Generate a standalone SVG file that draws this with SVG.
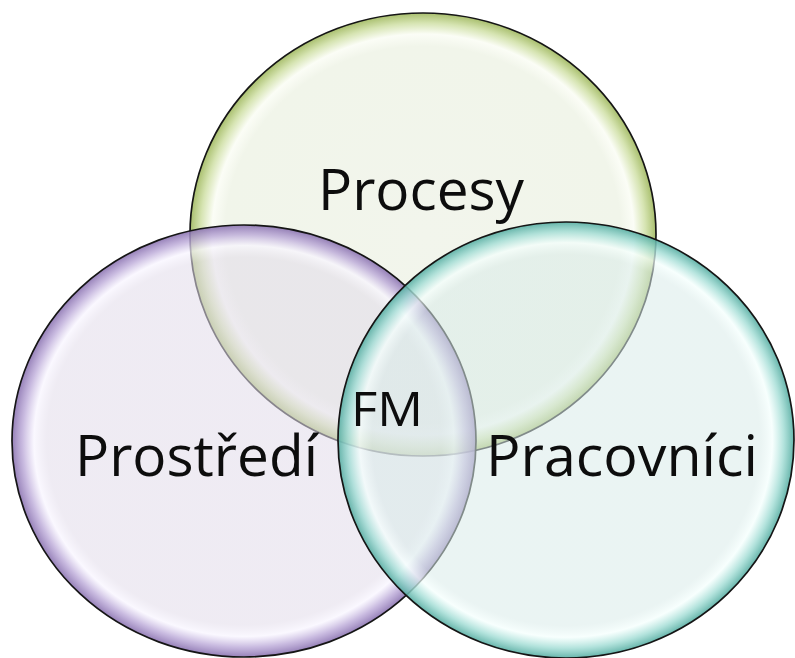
<svg xmlns="http://www.w3.org/2000/svg" width="795" height="658" viewBox="0 0 795 658">
  <style>
    .ring { stroke: #151515; stroke-width: 1.7; }
    .label { font-family: "Open Sans", "Noto Sans", "DejaVu Sans", sans-serif; fill: #0d0d0d; }
    .big { font-size: 57px; }
    .small { font-size: 48px; }
  </style>
  <defs>
    <!-- glassy bevel: flat light interior, white highlight band, tinted rim -->
    <radialGradient id="gGreen" cx="0.5" cy="0.5" r="0.5">
      <stop offset="0" stop-color="#f2f5ec"/>
      <stop offset="0.85" stop-color="#f1f5ea"/>
      <stop offset="0.905" stop-color="#fbfdf6"/>
      <stop offset="0.955" stop-color="#d6e4b2"/>
      <stop offset="1" stop-color="#a9bf6e"/>
    </radialGradient>
    <radialGradient id="gPurple" cx="0.5" cy="0.5" r="0.5">
      <stop offset="0" stop-color="#e2dcea" stop-opacity="0.56"/>
      <stop offset="0.85" stop-color="#e2dcea" stop-opacity="0.56"/>
      <stop offset="0.905" stop-color="#f8f5ff" stop-opacity="0.7"/>
      <stop offset="0.955" stop-color="#bba9d8" stop-opacity="0.8"/>
      <stop offset="1" stop-color="#8a72b0" stop-opacity="0.9"/>
    </radialGradient>
    <radialGradient id="gTeal" cx="0.5" cy="0.5" r="0.5">
      <stop offset="0" stop-color="#d9ebe9" stop-opacity="0.55"/>
      <stop offset="0.85" stop-color="#d9ebe9" stop-opacity="0.55"/>
      <stop offset="0.905" stop-color="#f4fffd" stop-opacity="0.7"/>
      <stop offset="0.955" stop-color="#a0dcd4" stop-opacity="0.8"/>
      <stop offset="1" stop-color="#56ada2" stop-opacity="0.9"/>
    </radialGradient>
  </defs>

  <rect width="795" height="658" fill="#ffffff"/>

  <g id="procesy">
    <ellipse class="ring" cx="423" cy="234.5" rx="233" ry="221.5" fill="url(#gGreen)"/>
    <text class="label big" x="318" y="210" textLength="206" lengthAdjust="spacingAndGlyphs">Procesy</text>
  </g>

  <g id="prostredi">
    <ellipse class="ring" cx="244" cy="441" rx="232" ry="216" fill="url(#gPurple)"/>
  </g>

  <g id="pracovnici">
    <ellipse class="ring" cx="566" cy="440" rx="228" ry="218" fill="url(#gTeal)"/>
  </g>

  <!-- labels on top of all circles -->
  <g id="labels">
    <text class="label big" x="75" y="476" textLength="243" lengthAdjust="spacingAndGlyphs">Prostředí</text>
    <text class="label big" x="486" y="476" textLength="272" lengthAdjust="spacingAndGlyphs">Pracovníci</text>
    <text id="fm" class="label small" x="351" y="426" textLength="72" lengthAdjust="spacingAndGlyphs">FM</text>
  </g>

  <g id="connectors"></g>
</svg>
